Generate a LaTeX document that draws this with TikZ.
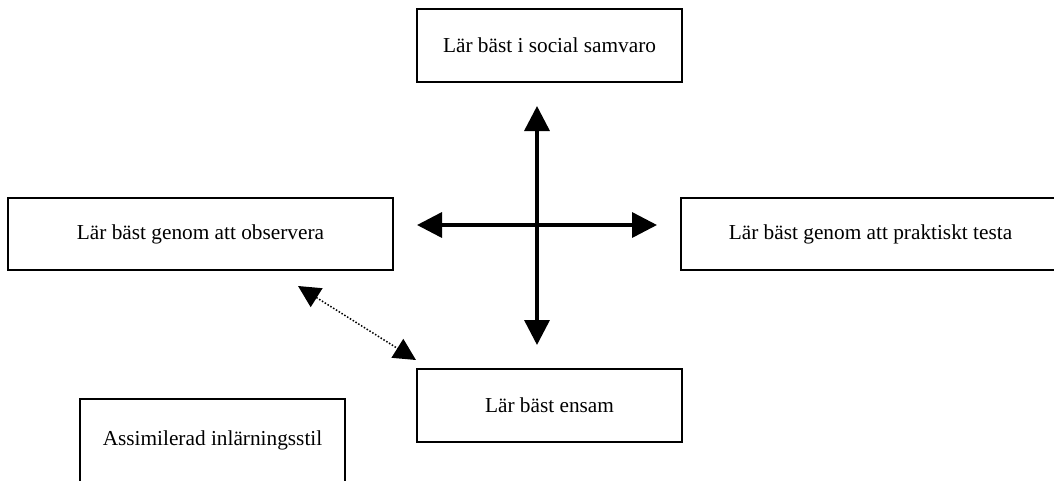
\documentclass[tikz,border=0pt]{standalone}
\usepackage{fontspec}
\setmainfont{Liberation Serif}
\usetikzlibrary{arrows.meta}
\begin{document}
\begin{tikzpicture}[x=1pt,y=-1pt,
  box/.style={draw, line width=1.2pt, rectangle, inner sep=0pt,
    font=\fontsize{21.3}{25}\selectfont},
  axis/.style={line width=3.5pt, {Triangle[length=25pt,width=25pt]}-{Triangle[length=25pt,width=25pt]}},
  link/.style={line width=1.5pt, dash pattern=on 1.5pt off 1.8pt,
    {Triangle[length=22pt,width=22pt]}-{Triangle[length=22pt,width=22pt]}}]
  \useasboundingbox (0,0) rectangle (1054,480);

  % boxes
  \node[box, minimum width=265pt, minimum height=73pt] (social) at (549.5,45.5) {Lär bäst i social samvaro};
  \node[box, minimum width=385pt, minimum height=72pt] (observe) at (200.5,234) {Lär bäst genom att observera};
  \node[box, minimum width=379pt, minimum height=72pt] (test) at (870.5,234) {Lär bäst genom att praktiskt testa};
  \node[box, minimum width=265pt, minimum height=73pt] (alone) at (549.5,405.5) {Lär bäst ensam};
  \node[box, minimum width=265pt, minimum height=83pt] (style) at (212.5,440.5) {Assimilerad inlärningsstil};

  % cross of double arrows
  \coordinate (up) at (537,106);
  \coordinate (down) at (537,345);
  \coordinate (left) at (417,225);
  \coordinate (right) at (657,225);
  \draw[axis] (up) -- (down);
  \draw[axis] (left) -- (right);

  % dotted link between observing and learning alone
  \coordinate (obsend) at (298,286);
  \coordinate (aloneend) at (416,360);
  \draw[link] (obsend) -- (aloneend);
\end{tikzpicture}
\end{document}
